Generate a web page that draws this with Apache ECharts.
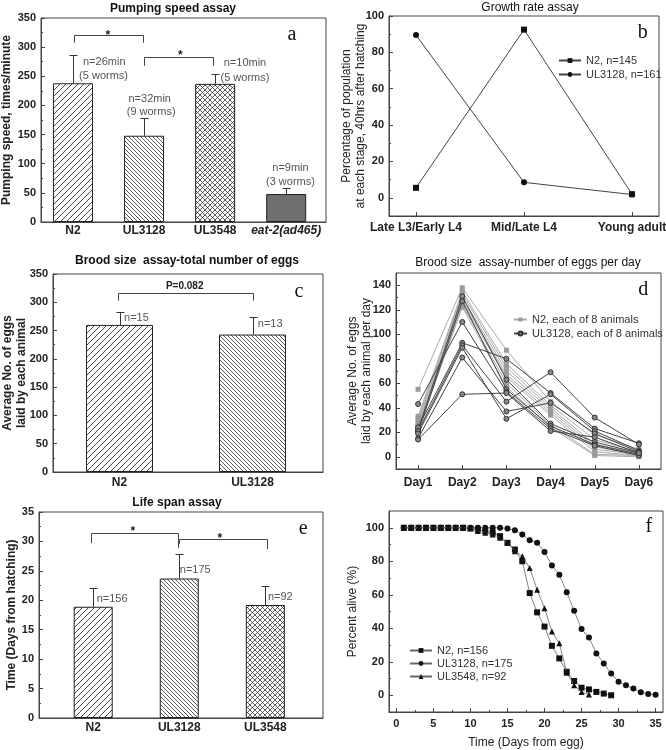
<!DOCTYPE html>
<html><head><meta charset="utf-8">
<script src="https://cdn.jsdelivr.net/npm/echarts@6/dist/echarts.min.js"></script>
<style>html,body{margin:0;padding:0;background:#fff}#c{width:666px;height:750px}</style>
</head><body><div id="c"></div>
<script>
// ================= DATA =================
// (a) Pumping speed assay
const pumpCats = ['N2', 'UL3128', 'UL3548', 'eat-2(ad465)'];
const pumpMean = [238, 148, 237, 48];
const pumpErrTop = [287, 178, 254, 59];
const pumpNotes = [['n=26min', '(5 worms)'], ['n=32min', '(9 worms)'], ['n=10min', '(5 worms)'], ['n=9min', '(3 worms)']];

// (b) Growth rate assay
const growthCats = ['Late L3/Early L4', 'Mid/Late L4', 'Young adult'];
const growthN2 = [5.5, 92.5, 2];
const growthUL3128 = [89.5, 8.5, 1.8];
const growthNames = ['N2, n=145', 'UL3128, n=161'];

// (c) Brood size - total
const broodCats = ['N2', 'UL3128'];
const broodMean = [260, 243];
const broodErrTop = [282, 274];
const broodNotes = ['n=15', 'n=13'];
const broodP = 'P=0.082';

// (d) Brood size - per day
const days = ['Day1', 'Day2', 'Day3', 'Day4', 'Day5', 'Day6'];
const eggsN2 = [
  [55, 138, 87, 45, 18, 6],
  [33, 135, 76, 42, 14, 4],
  [31, 133, 73, 40, 10, 3],
  [29, 130, 70, 38, 8, 2],
  [27, 128, 67, 36, 6, 2],
  [26, 126, 65, 34, 4, 1],
  [24, 124, 60, 26, 2, 1],
  [22, 122, 57, 24, 1, 0]
];
const eggsUL3128 = [
  [22, 131, 63, 27, 12, 3],
  [20, 127, 55, 25, 10, 2],
  [43, 110, 53, 23, 9, 1],
  [24, 93, 80, 52, 23, 11],
  [21, 91, 45, 69, 32, 10],
  [19, 89, 31, 51, 21, 5],
  [15, 81, 37, 44, 19, 4],
  [14, 51, 52, 21, 16, 3]
];
const eggsNames = ['N2, each of 8 animals', 'UL3128, each of 8 animals'];

// (e) Life span assay
const lifeCats = ['N2', 'UL3128', 'UL3548'];
const lifeMean = [18.9, 23.7, 19.2];
const lifeErrTop = [22.1, 27.8, 22.5];
const lifeNotes = ['n=156', 'n=175', 'n=92'];

// (f) Survival curves
const survDaysN2 = [1,2,3,4,5,6,7,8,9,10,11,12,13,14,15,16,17,18,19,20,21,22,23,24,25,26,27,28,29];
const survN2 = [100,100,100,100,100,100,100,100,100,99.5,99,98,97,95,91,87,80,61,49.5,41,29.5,22,14,8.5,4.5,3.5,2,1,0];
const survDaysUL3128 = [1,2,3,4,5,6,7,8,9,10,11,12,13,14,15,16,17,18,19,20,21,22,23,24,25,26,27,28,29,30,31,32,33,34,35];
const survUL3128 = [100,100,100,100,100,100,100,100,100,100,100,100,100,100,99.5,98.5,96,92.5,91,85.5,77.5,72,61.5,50.5,39.5,34.5,25,19,13,8,6,4,1.8,0.8,0.3];
const survDaysUL3548 = [1,2,3,4,5,6,7,8,9,10,11,12,13,14,15,16,17,18,19,20,21,22,23,24,25,26];
const survUL3548 = [100,100,100,100,100,100,100,100,100,100,98,97,96,94,91,86,83,76,63,52,38,31,13.5,6,2,0.4];
const survNames = ['N2, n=156', 'UL3128, n=175', 'UL3548, n=92'];

// ticks
const pctTicks = [0, 20, 40, 60, 80, 100];
const pctMinor = [10, 30, 50, 70, 90];
const eggTicks = [0, 20, 40, 60, 80, 100, 120, 140];
const eggMinor = [10, 30, 50, 70, 90, 110, 130];
const survXTicks = [0, 5, 10, 15, 20, 25, 30, 35];
const survXMinor = [2.5, 7.5, 12.5, 17.5, 22.5, 27.5, 32.5];

// ================= STYLE / LAYOUT =================
const FONT = '"Liberation Sans", Arial, sans-serif';
const SERIF = '"Liberation Serif", "DejaVu Serif", serif';
const INK = '#222';

function hatch(period, dirs, lw) {
  const c = document.createElement('canvas');
  c.width = period; c.height = period;
  const g = c.getContext('2d');
  g.fillStyle = '#fff'; g.fillRect(0, 0, period, period);
  g.strokeStyle = '#333'; g.lineWidth = lw;
  for (const d of dirs) {
    for (const k of [-period, 0, period]) {
      g.beginPath();
      if (d === '/') { g.moveTo(k, period); g.lineTo(k + period, 0); }
      else { g.moveTo(k, 0); g.lineTo(k + period, period); }
      g.stroke();
    }
  }
  return { image: c, repeat: 'repeat' };
}
const patN2 = hatch(6, ['/'], 0.9);
const patUL3128 = hatch(4, ['\\'], 0.8);
const patUL3548 = hatch(5, ['/', '\\'], 0.8);
const solidEat = '#6f6f6f';

const gridBase = { show: true, borderColor: '#444', borderWidth: 1, backgroundColor: 'transparent', containLabel: false, outerBoundsMode: 'none' };
const grids = [
  { left: 41, top: 18, width: 285, height: 204 },
  { left: 389, top: 16, width: 270, height: 200 },
  { left: 53, top: 274, width: 270, height: 198 },
  { left: 396, top: 273, width: 265, height: 196 },
  { left: 39, top: 512, width: 284, height: 206 },
  { left: 389, top: 511, width: 274, height: 201 }
].map(g => Object.assign({}, gridBase, g));

const axLine = { show: true, onZero: false, lineStyle: { color: '#444', width: 1 } };
const tickLbl = { color: INK, fontSize: 11, fontWeight: 'bold', fontFamily: FONT };
const catLbl = { color: INK, fontSize: 12, fontWeight: 'bold', fontFamily: FONT };
const noSplit = { show: false };

function catXAxis(grid, min, max, cats, margin, ticks) {
  const vals = cats.map((c, i) => i + 1);
  return {
    type: 'value', gridIndex: grid, min, max, offset: 0,
    axisLine: axLine, splitLine: noSplit,
    axisTick: ticks ? { show: true, inside: true, length: 4, customValues: vals, lineStyle: { color: '#444' } } : { show: false },
    axisLabel: Object.assign({}, catLbl, {
      customValues: vals, margin,
      formatter: v => { const s = cats[Math.round(v) - 1]; return s === 'eat-2(ad465)' ? '{i|' + s + '}' : s; },
      rich: { i: { fontStyle: 'italic', fontWeight: 'bold', fontSize: 12, fontFamily: FONT, color: INK } }
    })
  };
}
function yName(text, gap, bold) {
  return {
    name: text, nameLocation: 'middle', nameGap: gap, nameRotate: 90, nameMoveOverlap: false,
    nameTextStyle: { color: INK, fontSize: 12, fontWeight: bold ? 'bold' : 'normal', fontFamily: FONT, lineHeight: 14 }
  };
}
function yInterval(grid, min, max, interval, nm) {
  return Object.assign({
    type: 'value', gridIndex: grid, min, max, interval, offset: 0,
    axisLine: axLine, splitLine: noSplit,
    axisTick: { show: true, inside: true, length: 4, lineStyle: { color: '#444' } },
    minorTick: { show: true, splitNumber: 2, length: 2, lineStyle: { color: '#444' } },
    axisLabel: Object.assign({}, tickLbl, { margin: 5 })
  }, nm);
}
function yCustom(grid, min, max, ticks, nm) {
  return Object.assign({
    type: 'value', gridIndex: grid, min, max, offset: 0,
    axisLine: axLine, splitLine: noSplit,
    axisTick: { show: true, inside: true, length: 4, customValues: ticks, lineStyle: { color: '#444' } },
    axisLabel: Object.assign({}, tickLbl, { margin: 5, customValues: ticks })
  }, nm);
}
function minorAxis(type, grid, min, max, vals) {
  return {
    type: 'value', gridIndex: grid, min, max, position: type === 'y' ? 'left' : 'bottom', offset: 0,
    axisLine: { show: false, onZero: false }, splitLine: noSplit, axisLabel: { show: false },
    axisTick: { show: true, inside: true, length: 2, customValues: vals, lineStyle: { color: '#444' } }
  };
}

const xAxis = [
  catXAxis(0, 0.55, 4.56, pumpCats, 3, false),
  catXAxis(1, 0.75, 3.25, growthCats, 6, true),
  catXAxis(2, 0.5, 2.53, broodCats, 5, false),
  catXAxis(3, 0.5, 6.5, days, 8, true),
  catXAxis(4, 0.37, 3.67, lifeCats, 4, false),
  Object.assign({
    type: 'value', gridIndex: 5, min: -1, max: 36, offset: 0,
    axisLine: axLine, splitLine: noSplit,
    axisTick: { show: true, inside: true, length: 4, customValues: survXTicks, lineStyle: { color: '#444' } },
    axisLabel: Object.assign({}, tickLbl, { margin: 6, customValues: survXTicks }),
    name: 'Time (Days from egg)', nameLocation: 'middle', nameGap: 25, nameMoveOverlap: false,
    nameTextStyle: { color: INK, fontSize: 12, fontWeight: 'normal', fontFamily: FONT }
  }),
  minorAxis('x', 5, -1, 36, survXMinor)
];
const yAxis = [
  yInterval(0, 0, 350, 50, yName('Pumping speed, times/minute', 27, true)),
  yCustom(1, -10, 100, pctTicks, yName('Percentage of population\nat each stage, 40hrs after hatching', 21, false)),
  minorAxis('y', 1, -10, 100, pctMinor),
  yInterval(2, 0, 350, 50, yName('Average No. of eggs\nlaid by each animal', 24, true)),
  yCustom(3, -10, 150, eggTicks, yName('Average No. of eggs\nlaid by each animal per day', 22, false)),
  minorAxis('y', 3, -10, 150, eggMinor),
  yInterval(4, 0, 35, 5, yName('Time (Days from hatching)', 20, true)),
  yCustom(5, -10, 110, pctTicks, yName('Percent alive (%)', 29, false)),
  minorAxis('y', 5, -10, 110, pctMinor)
];

// ---- annotation layout (data coordinates of each panel) ----
const noteFont = '11px ' + FONT;
const noteColor = '#555';
const annoA = [
  { x: 1.44, y: 275, t: pumpNotes[0][0] }, { x: 1.43, y: 250, t: pumpNotes[0][1] },
  { x: 2.08, y: 211, t: pumpNotes[1][0] }, { x: 2.10, y: 188, t: pumpNotes[1][1] },
  { x: 3.42, y: 273, t: pumpNotes[2][0] }, { x: 3.42, y: 247, t: pumpNotes[2][1] },
  { x: 4.06, y: 92, t: pumpNotes[3][0] }, { x: 4.06, y: 68, t: pumpNotes[3][1] },
  { x: 1.49, y: 320, t: '*', font: 'bold 12px ' + FONT, color: INK },
  { x: 2.51, y: 285, t: '*', font: 'bold 12px ' + FONT, color: INK },
  { x: 4.08, y: 321, t: 'a', font: '20px ' + SERIF, color: '#111' }
];
const bracketsA = [[1.01, 1.99, 321, 307.6, 307.6], [2.0, 2.97, 283.5, 268, 268]];
const annoB = [{ x: 3.1, y: 90.7, t: 'b', font: '20px ' + SERIF, color: '#111' }];
const annoC = [
  { x: 1.49, y: 329, t: broodP, font: 'bold 10px ' + FONT, color: INK },
  { x: 1.034, y: 272.7, t: broodNotes[0], align: 'left' },
  { x: 2.04, y: 261.5, t: broodNotes[1], align: 'left' },
  { x: 2.35, y: 318, t: 'c', font: '20px ' + SERIF, color: '#111' }
];
const bracketsC = [[0.99, 2.0, 316.9, 302.8, 302.8]];
const annoD = [{ x: 6.1, y: 136.7, t: 'd', font: '20px ' + SERIF, color: '#111' }];
const annoE = [
  { x: 1.04, y: 20.2, t: lifeNotes[0], align: 'left' },
  { x: 2.006, y: 25.1, t: lifeNotes[1], align: 'left' },
  { x: 3.03, y: 20.5, t: lifeNotes[2], align: 'left' },
  { x: 1.46, y: 31.7, t: '*', font: 'bold 12px ' + FONT, color: INK },
  { x: 2.47, y: 30.5, t: '*', font: 'bold 12px ' + FONT, color: INK },
  { x: 3.44, y: 32.2, t: 'e', font: '20px ' + SERIF, color: '#111' }
];
const bracketsE = [[0.98, 1.99, 31.4, 29.7, 28.9], [2.0, 3.02, 30.4, 29.6, 28.7]];
const annoF = [{ x: 34.1, y: 100.4, t: 'f', font: '20px ' + SERIF, color: '#111' }];

// ---- series helpers ----
function textSeries(xi, yi, items) {
  return {
    type: 'custom', coordinateSystem: 'cartesian2d', xAxisIndex: xi, yAxisIndex: yi, z: 6, silent: true,
    data: items.map(a => [a.x, a.y]),
    renderItem: (params, api) => {
      const a = items[params.dataIndex];
      const p = api.coord([api.value(0), api.value(1)]);
      const al = a.align || 'center';
      return { type: 'text', x: p[0], y: p[1], style: { text: a.t, font: a.font || noteFont, fill: a.color || noteColor, align: al, textAlign: al, verticalAlign: 'middle', textVerticalAlign: 'middle' } };
    }
  };
}
function bracketSeries(xi, yi, list) {
  return {
    type: 'custom', coordinateSystem: 'cartesian2d', xAxisIndex: xi, yAxisIndex: yi, z: 5, silent: true,
    data: list,
    renderItem: (params, api) => {
      const a = api.coord([api.value(0), api.value(3)]);
      const b = api.coord([api.value(0), api.value(2)]);
      const c = api.coord([api.value(1), api.value(2)]);
      const d = api.coord([api.value(1), api.value(4)]);
      const r = v => Math.round(v) + 0.5;
      return { type: 'polyline', shape: { points: [[r(a[0]), a[1]], [r(b[0]), r(b[1])], [r(c[0]), r(c[1])], [r(d[0]), d[1]]] }, style: { stroke: '#444', lineWidth: 1, fill: null } };
    }
  };
}
function errSeries(xi, yi, means, tops) {
  return {
    type: 'custom', coordinateSystem: 'cartesian2d', xAxisIndex: xi, yAxisIndex: yi, z: 4, silent: true,
    data: means.map((m, i) => [i + 1, m, tops[i]]),
    renderItem: (params, api) => {
      const p0 = api.coord([api.value(0), api.value(1)]);
      const p1 = api.coord([api.value(0), api.value(2)]);
      const x = Math.round(p0[0]) + 0.5, yt = Math.round(p1[1]) + 0.5;
      return { type: 'group', children: [
        { type: 'line', shape: { x1: x, y1: p0[1], x2: x, y2: yt }, style: { stroke: '#333', lineWidth: 1 } },
        { type: 'line', shape: { x1: x - 4, y1: yt, x2: x + 4, y2: yt }, style: { stroke: '#333', lineWidth: 1 } }
      ] };
    }
  };
}
function barSeries(xi, yi, vals, fills, width) {
  return {
    type: 'bar', xAxisIndex: xi, yAxisIndex: yi, barWidth: width, z: 3,
    data: vals.map((v, i) => ({ value: [i + 1, v], itemStyle: { color: fills[i] } })),
    itemStyle: { borderColor: '#222', borderWidth: 1 }
  };
}

const series = [];
// (a)
series.push(barSeries(0, 0, pumpMean, [patN2, patUL3128, patUL3548, solidEat], 40));
series.push(errSeries(0, 0, pumpMean, pumpErrTop));
series.push(bracketSeries(0, 0, bracketsA));
series.push(textSeries(0, 0, annoA));
// (b)
series.push({ name: growthNames[0], type: 'line', xAxisIndex: 1, yAxisIndex: 1, data: growthN2.map((v, i) => [i + 1, v]),
  symbol: 'rect', symbolSize: 6, itemStyle: { color: '#111' }, lineStyle: { color: '#444', width: 1 } });
series.push({ name: growthNames[1], type: 'line', xAxisIndex: 1, yAxisIndex: 1, data: growthUL3128.map((v, i) => [i + 1, v]),
  symbol: 'circle', symbolSize: 6, itemStyle: { color: '#111' }, lineStyle: { color: '#444', width: 1 } });
series.push(textSeries(1, 1, annoB));
// (c)
series.push(barSeries(2, 3, broodMean, [patN2, patUL3128], 67));
series.push(errSeries(2, 3, broodMean, broodErrTop));
series.push(bracketSeries(2, 3, bracketsC));
series.push(textSeries(2, 3, annoC));
// (d)
eggsN2.forEach(row => series.push({ name: eggsNames[0], type: 'line', xAxisIndex: 3, yAxisIndex: 4,
  data: row.map((v, i) => [i + 1, v]), symbol: 'rect', symbolSize: 5,
  itemStyle: { color: '#9a9a9a' }, lineStyle: { color: '#aaa', width: 1 }, z: 2 }));
eggsUL3128.forEach(row => series.push({ name: eggsNames[1], type: 'line', xAxisIndex: 3, yAxisIndex: 4,
  data: row.map((v, i) => [i + 1, v]), symbol: 'circle', symbolSize: 5,
  itemStyle: { color: '#888', borderColor: '#333', borderWidth: 1 }, lineStyle: { color: '#444', width: 1 }, z: 3 }));
series.push(textSeries(3, 4, annoD));
// (e)
series.push(barSeries(4, 6, lifeMean, [patN2, patUL3128, patUL3548], 39));
series.push(errSeries(4, 6, lifeMean, lifeErrTop));
series.push(bracketSeries(4, 6, bracketsE));
series.push(textSeries(4, 6, annoE));
// (f)
const survSyms = ['rect', 'circle', 'triangle'];
[[survDaysN2, survN2], [survDaysUL3128, survUL3128], [survDaysUL3548, survUL3548]].forEach((s, k) => {
  series.push({ name: survNames[k], type: 'line', xAxisIndex: 5, yAxisIndex: 7,
    data: s[0].map((d, i) => [d, s[1][i]]), symbol: survSyms[k], symbolSize: 6,
    itemStyle: { color: '#111' }, lineStyle: { color: '#666', width: 0.8 }, z: 3 + k });
});
series.push(textSeries(5, 7, annoF));

const legendText = { fontSize: 11, color: '#333', fontFamily: FONT };
const legend = [
  { data: growthNames, left: 558, top: 55, orient: 'vertical', itemWidth: 22, itemHeight: 6, itemGap: 3, padding: 0, textStyle: legendText, selectedMode: false },
  { data: eggsNames, left: 513, top: 314, orient: 'vertical', itemWidth: 13, itemHeight: 5, itemGap: 3, padding: 0, textStyle: legendText, selectedMode: false },
  { data: survNames, left: 409, top: 645, orient: 'vertical', itemWidth: 22, itemHeight: 6, itemGap: 2, padding: 0, textStyle: legendText, selectedMode: false }
];

function title(x, y, text, bold) {
  return { type: 'text', x, y, silent: true, style: { text, font: (bold ? 'bold ' : '') + '12px ' + FONT, fill: '#111', align: 'center', textAlign: 'center', verticalAlign: 'middle', textVerticalAlign: 'middle' } };
}
const graphic = [
  title(173, 9, 'Pumping speed assay', true),
  title(530, 8, 'Growth rate assay', false),
  title(187, 261, 'Brood size  assay-total number of eggs', true),
  title(528, 263, 'Brood size  assay-number of eggs per day', false),
  title(177, 503, 'Life span assay', true)
];

const chart = echarts.init(document.getElementById('c'), null, { renderer: 'canvas' });
chart.setOption({
  animation: false,
  backgroundColor: '#fff',
  textStyle: { fontFamily: FONT },
  grid: grids, xAxis, yAxis, series, legend, graphic
});
</script></body></html>
